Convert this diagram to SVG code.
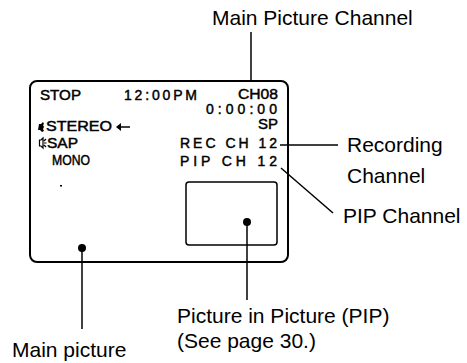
<svg xmlns="http://www.w3.org/2000/svg" width="467" height="363" viewBox="0 0 467 363">
<defs>
<style>
.osd{font-family:"Liberation Sans",Arial,sans-serif;font-size:14px;fill:#000;stroke:#000;stroke-width:0.45;}
.lbl{font-family:"Liberation Sans",Arial,sans-serif;font-size:21px;fill:#000;}
.ln{stroke:#000;stroke-width:1.5;fill:none;}
</style>
</defs>
<rect width="467" height="363" fill="#fff"/>
<g id="screen">
<rect x="30" y="81" width="258" height="181" rx="7" fill="none" stroke="#000" stroke-width="2"/>
<text class="osd" x="40" y="100" textLength="41" lengthAdjust="spacingAndGlyphs">STOP</text>
<text class="osd" x="124" y="100" textLength="73" lengthAdjust="spacing">12:00PM</text>
<text class="osd" x="238" y="99" textLength="40" lengthAdjust="spacingAndGlyphs">CH08</text>
<text class="osd" x="206" y="114" textLength="71" lengthAdjust="spacing">0:00:00</text>
<text class="osd" x="258" y="129" textLength="20" lengthAdjust="spacingAndGlyphs">SP</text>
<path d="M39 124 h2 l2 -2 l1 2 l-1 1 l1 2 l-1 2 l1 2 l-2 1 l-2 -2 h-2 z" fill="#000"/>
<text class="osd" x="46" y="131" textLength="66" lengthAdjust="spacingAndGlyphs">STEREO</text>
<path d="M39.5 140 h1.5 l2 -2 v10 l-2 -2 h-1.5 z M44 141 l2 -2 M44 143 h2.5 M44 145 l2 2" fill="none" stroke="#000" stroke-width="1.2"/>
<text class="osd" x="47" y="148" textLength="31" lengthAdjust="spacingAndGlyphs">SAP</text>
<text class="osd" x="52" y="165" textLength="38" lengthAdjust="spacingAndGlyphs">MONO</text>
<rect x="60" y="185" width="2" height="1.5" fill="#000"/>
<text class="osd" x="180" y="148" textLength="97" lengthAdjust="spacing">REC CH 12</text>
<text class="osd" x="180" y="166" textLength="97" lengthAdjust="spacing">PIP CH 12</text>
</g>
<g id="pip-window">
<rect x="186" y="182" width="91" height="63" rx="3" fill="none" stroke="#000" stroke-width="1.5"/>
</g>
<g id="connectors">
<path class="ln" d="M118 127 H130"/>
<path d="M116 127 l5 -4 v8 z" fill="#000"/>
<path class="ln" d="M251 32 V81"/>
<path class="ln" d="M280 145 H338"/>
<path class="ln" d="M281 168 L333 213"/>
<circle cx="82" cy="248" r="4" fill="#000"/>
<path class="ln" d="M82 248 V329"/>
<circle cx="247" cy="222" r="4" fill="#000"/>
<path class="ln" d="M247 222 V300"/>
</g>
<g id="label-main-channel"><text class="lbl" x="212" y="25">Main Picture Channel</text></g>
<g id="label-recording"><text class="lbl" x="347" y="152">Recording</text><text class="lbl" x="347" y="183">Channel</text></g>
<g id="label-pip-channel"><text class="lbl" x="343" y="223">PIP Channel</text></g>
<g id="label-pip"><text class="lbl" x="177" y="323">Picture in Picture (PIP)</text><text class="lbl" x="177" y="348">(See page 30.)</text></g>
<g id="label-main"><text class="lbl" x="12" y="357">Main picture</text></g>
</svg>
